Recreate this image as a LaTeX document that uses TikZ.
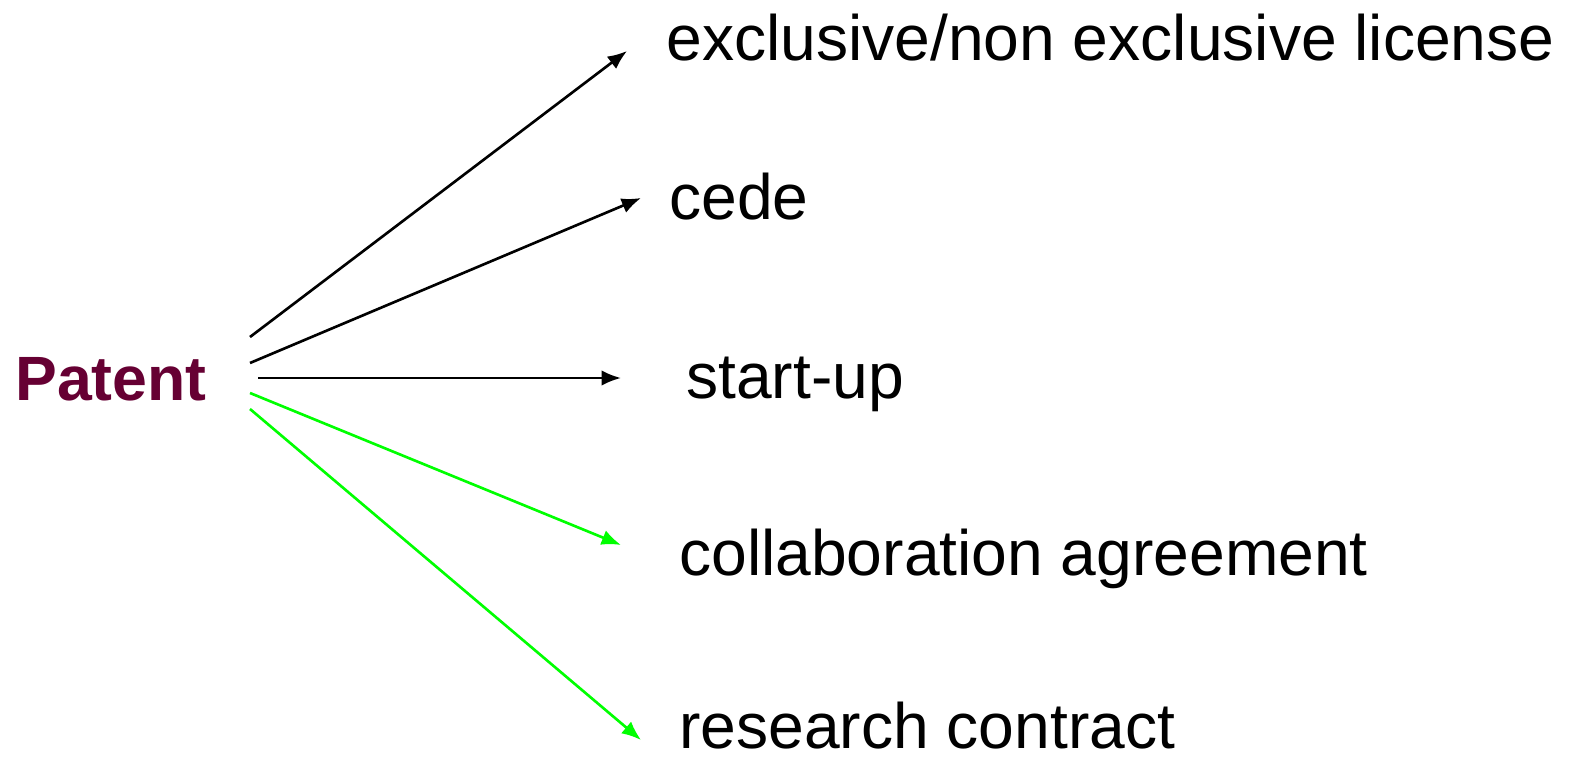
\documentclass[tikz,border=0pt]{standalone}
\usepackage{fontspec}
\setmainfont{Liberation Sans}
\usepackage{tikz}
\usetikzlibrary{positioning,arrows.meta,calc}
\definecolor{patentred}{HTML}{660033}
\definecolor{agreegreen}{HTML}{00FF00}
\tikzset{every picture/.style={>={Latex[length=5.5pt,width=4.4pt]},line width=0.75pt}}
\tikzset{option/.style={anchor=base west,inner sep=0pt,font=\fontsize{18.25}{22}\selectfont}}
\tikzset{green arrow/.style={->,draw=agreegreen,fill=agreegreen}}

\begin{document}
\begin{tikzpicture}[x=0.01cm,y=-0.01cm]
      \useasboundingbox (0,0) rectangle (1571,758);
      \node[option,text=patentred,font=\fontsize{17.8}{22}\selectfont\bfseries] (patent) at (14,400) {Patent};
      \node[option] (license) at (665,61) {exclusive/non exclusive license};
      \node[option] (cede) at (668,220) {cede};
      \node[option] (startup) at (685,398) {start-up};
      \node[option] (collab) at (678,575) {collaboration agreement};
      \node[option] (research) at (678,748) {research contract};
      % arrow ends
      \coordinate (s1) at (250,337); \coordinate (e1) at (627,51);
      \coordinate (s2) at (250,363); \coordinate (e2) at (641,198);
      \coordinate (s3) at (258,378); \coordinate (e3) at (621,378);
      \coordinate (s4) at (250,393); \coordinate (e4) at (621,545);
      \coordinate (s5) at (250,409); \coordinate (e5) at (641,740);
      \draw[->] (s1) -- (e1);
      \draw[->] (s2) -- (e2);
      \draw[->] (s3) -- (e3);
      \draw[green arrow] (s4) -- (e4);
      \draw[green arrow] (s5) -- (e5);
    \end{tikzpicture}
\end{document}
